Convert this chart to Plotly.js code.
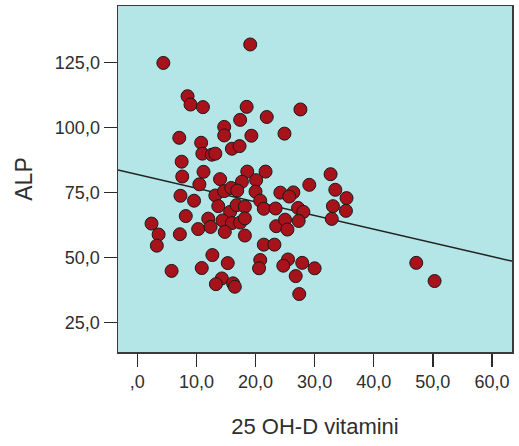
<!DOCTYPE html>
<html>
<head>
<meta charset="utf-8">
<script src="https://cdn.plot.ly/plotly-3.0.1.min.js"></script>
<style>
  html, body { margin: 0; padding: 0; background: #ffffff; }
  #chart { width: 519px; height: 446px; }
</style>
</head>
<body>
<div id="chart"></div>
<script>
// 25 OH-D vitamini (x) against ALP (y), one entry per subject
const vitaminD = [
  4.4, 19.1, 8.5, 9.0, 11.1, 18.5, 27.6, 21.9, 17.4, 14.7,
  14.7, 7.1, 19.3, 24.9, 10.8, 11.0, 12.6, 13.2, 16.0, 17.3,
  7.5, 7.6, 11.2, 14.0, 18.6, 21.7, 20.1, 17.7, 10.5, 29.1,
  32.7, 33.5, 35.4, 33.1, 35.3, 32.9, 7.3, 9.6, 13.2, 14.7,
  15.9, 16.9, 20.0, 24.2, 26.4, 25.7, 13.7, 15.7, 16.8, 18.2,
  20.8, 21.4, 23.4, 27.2, 28.1, 8.2, 12.0, 2.4, 14.4, 16.0,
  17.4, 18.2, 23.5, 25.0, 25.4, 27.3, 3.6, 3.3, 7.2, 10.3,
  12.4, 14.8, 18.2, 21.4, 23.2, 12.7, 15.3, 10.9, 5.8, 14.3,
  13.3, 16.2, 16.5, 20.8, 20.6, 25.5, 24.7, 27.9, 30.0, 26.8,
  27.4, 47.2, 50.3
];
const alp = [
  124.8, 131.9, 112.0, 108.8, 107.8, 107.9, 106.9, 104.0, 102.9, 100.2,
  96.9, 96.0, 96.8, 97.6, 94.1, 89.9, 89.5, 89.9, 91.8, 92.8,
  86.8, 81.1, 82.9, 80.1, 83.0, 83.0, 79.7, 79.1, 78.1, 77.9,
  82.0, 76.0, 72.8, 69.7, 67.9, 64.8, 73.7, 71.8, 73.8, 75.5,
  76.7, 75.7, 75.3, 74.9, 75.0, 73.4, 69.7, 67.5, 70.1, 69.5,
  71.8, 68.7, 68.8, 69.0, 67.5, 65.9, 64.9, 63.0, 64.2, 63.2,
  63.4, 65.0, 62.0, 64.5, 60.7, 64.0, 58.8, 54.5, 58.9, 60.9,
  61.7, 59.8, 58.4, 54.9, 54.9, 50.9, 47.8, 45.9, 44.8, 41.9,
  39.7, 40.0, 38.7, 49.0, 45.8, 49.2, 46.8, 47.9, 45.8, 42.8,
  35.9, 47.9, 40.9
];

// Linear fit ALP = intercept + slope * vitamin D
const fitIntercept = 81.9;
const fitSlope = -0.526;

// Axis ranges and tick labels (comma decimal separator, no leading zero)
const xRange = [-3.27, 63.4];
const yRange = [13.6, 146.7];
const xTickVals = [0, 10, 20, 30, 40, 50, 60];
const xTickText = [',0', '10,0', '20,0', '30,0', '40,0', '50,0', '60,0'];
const yTickVals = [25, 50, 75, 100, 125];
const yTickText = ['25,0', '50,0', '75,0', '100,0', '125,0'];

const fitX = xRange.slice();
const fitY = fitX.map(v => fitIntercept + fitSlope * v);

const fitTrace = {
  x: fitX, y: fitY, type: 'scatter', mode: 'lines',
  line: { color: '#222222', width: 1.5 },
  hoverinfo: 'skip', showlegend: false
};

const pointTrace = {
  x: vitaminD, y: alp, type: 'scatter', mode: 'markers',
  marker: { size: 13, color: '#a8121a', line: { color: '#1a1a1a', width: 1 } },
  showlegend: false
};

const tickFont = { family: 'Arial, "Liberation Sans", sans-serif', size: 18, color: '#2e2e2e' };
const titleFont = { family: 'Arial, "Liberation Sans", sans-serif', size: 22, color: '#2e2e2e' };

const layout = {
  width: 519, height: 446,
  margin: { l: 118, r: 7, t: 6, b: 94 },
  paper_bgcolor: '#ffffff',
  plot_bgcolor: '#b5e6e7',
  showlegend: false,
  xaxis: {
    range: xRange, showgrid: false, zeroline: false,
    showline: true, mirror: true, linecolor: '#3a3a3a', linewidth: 1.5,
    ticks: 'outside', ticklen: 13, tickwidth: 1.5, tickcolor: '#2a2a2a',
    tickvals: xTickVals, ticktext: xTickText, tickfont: tickFont,
    title: { text: '25 OH-D vitamini', font: titleFont, standoff: 27 }
  },
  yaxis: {
    range: yRange, showgrid: false, zeroline: false,
    showline: true, mirror: true, linecolor: '#3a3a3a', linewidth: 1.5,
    ticks: 'outside', ticklen: 13, tickwidth: 1.5, tickcolor: '#2a2a2a',
    tickvals: yTickVals, ticktext: yTickText, tickfont: tickFont,
    title: { text: 'ALP', font: { family: titleFont.family, size: 23, color: titleFont.color }, standoff: 16 }
  }
};

Plotly.newPlot('chart', [fitTrace, pointTrace], layout, { staticPlot: true, displayModeBar: false });
</script>
</body>
</html>
